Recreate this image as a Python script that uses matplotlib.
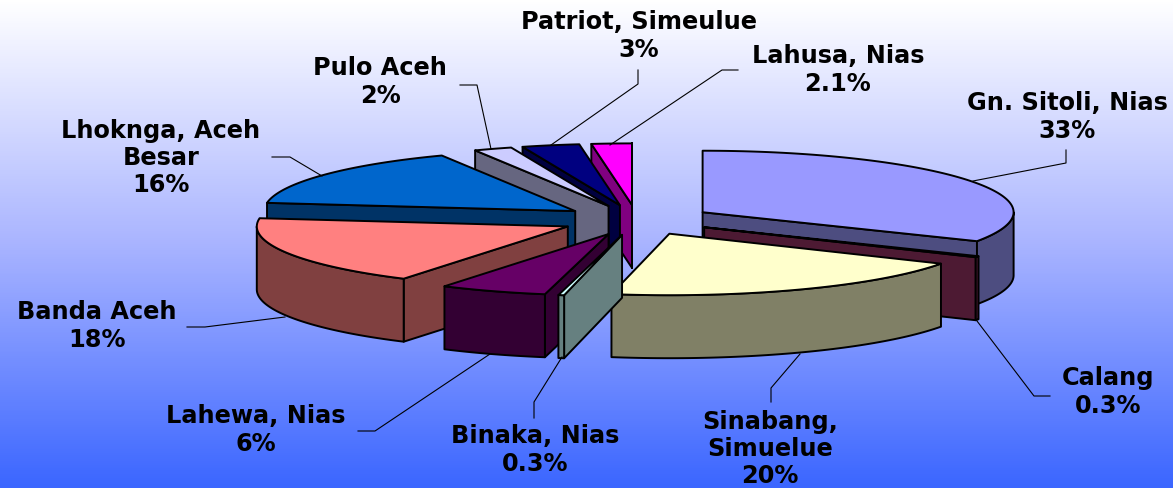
# %% Exploded 3D pie of locations, drawn by hand since matplotlib has no 3D pie
import matplotlib
matplotlib.use('Agg')
import matplotlib.pyplot as plt
from matplotlib.colors import LinearSegmentedColormap
from matplotlib.patches import Polygon
import numpy as np

# %% Data (clockwise from 12 o'clock)
names = ['Gn. Sitoli, Nias', 'Calang', 'Sinabang,\nSimuelue', 'Binaka, Nias',
         'Lahewa, Nias', 'Banda Aceh', 'Lhoknga, Aceh\nBesar', 'Pulo Aceh',
         'Patriot, Simeulue', 'Lahusa, Nias']
values = [33, 0.3, 20, 0.3, 5.6, 18.4, 15.9, 2, 3, 2.1]
value_labels = ['33%', '0.3%', '20%', '0.3%', '6%', '18%', '16%', '2%', '3%', '2.1%']
top_colors = ['#9999ff', '#993366', '#ffffcc', '#ccffff', '#660066',
              '#ff8080', '#0066cc', '#ccccff', '#000080', '#ff00ff']
side_colors = ['#4d4d80', '#4d1a33', '#808066', '#668080', '#330033',
               '#804040', '#003366', '#666680', '#000040', '#800080']

# %% Layout in pixels
W, H = 1173, 488
cx, cy = 637, 220
rx, ry = 311, 61.5
depth = 63
explode = 76.5

label_xy = [(1067, 117), (1108, 392), (770, 449), (535, 450), (256, 430),
            (97, 326), (161, 158), (380, 82), (639, 36), (838, 70)]
leaders = [[(1066, 150), (1066, 163), (973, 181)],
           [(977, 321), (1034, 396), (1050, 396)],
           [(800, 354), (771, 388), (771, 402)],
           [(562, 357), (534, 402), (534, 418)],
           [(490, 354), (375, 431), (358, 431)],
           [(285, 317), (205, 327), (187, 327)],
           [(322, 176), (290, 157), (272, 157)],
           [(491, 149), (477, 85), (460, 85)],
           [(551, 145), (638, 84), (638, 70)],
           [(610, 145), (722, 70), (738, 70)]]

fig = plt.figure(figsize=(W / 100, H / 100), dpi=100)
ax = fig.add_axes([0, 0, 1, 1])
ax.set_xlim(0, W)
ax.set_ylim(H, 0)
ax.axis('off')

# %% Background gradient
bg = LinearSegmentedColormap.from_list('bg', ['#ffffff', '#a9b4ff', '#3b66ff'])
ax.imshow(np.linspace(0, 1, H)[:, np.newaxis], cmap=bg, extent=[0, W, H, 0],
          aspect='auto', zorder=0)

# %% Slices
fracs = np.array(values) / np.sum(values)
ends = np.cumsum(fracs) * 2 * np.pi
starts = ends - fracs * 2 * np.pi
mids = (starts + ends) / 2


def rim(ax0, ay0, a):
    return ax0 + rx * np.sin(a), ay0 - ry * np.cos(a)


def face(pts, color, z):
    ax.add_patch(Polygon(pts, closed=True, facecolor=color, edgecolor='black',
                         linewidth=1.4, joinstyle='round', zorder=z))


z = 2
# back slices first
for i in np.argsort(-np.cos(mids)):
    a0, a1 = starts[i], ends[i]
    px = cx + explode * np.sin(mids[i])
    py = cy - explode * ry / rx * np.cos(mids[i])
    for a, visible in [(a0, np.sin(a0) < 0), (a1, np.sin(a1) > 0)]:
        if visible:
            ex, ey = rim(px, py, a)
            face([(px, py), (ex, ey), (ex, ey + depth), (px, py + depth)], side_colors[i], z)
            z += 1
    # outer wall, only the part on the front half
    f0, f1 = max(a0, np.pi / 2), min(a1, 3 * np.pi / 2)
    if f1 > f0:
        t = np.linspace(f0, f1, 60)
        xs, ys = rim(px, py, t)
        pts = list(zip(xs, ys)) + list(zip(xs[::-1], ys[::-1] + depth))
        face(pts, side_colors[i], z)
        z += 1
    t = np.linspace(a0, a1, 80)
    xs, ys = rim(px, py, t)
    face([(px, py)] + list(zip(xs, ys)), top_colors[i], z)
    z += 1

# %% Labels and leader lines
for name, val, xy, line in zip(names, value_labels, label_xy, leaders):
    ax.plot(*zip(*line), color='black', lw=0.8, zorder=z)
    ax.text(xy[0], xy[1], name + '\n' + val, ha='center', va='center', ma='center',
            family='DejaVu Sans', weight='bold', fontsize=17.3, linespacing=1.17,
            color='black', zorder=z + 1)

fig.savefig('out.png', dpi=100)
